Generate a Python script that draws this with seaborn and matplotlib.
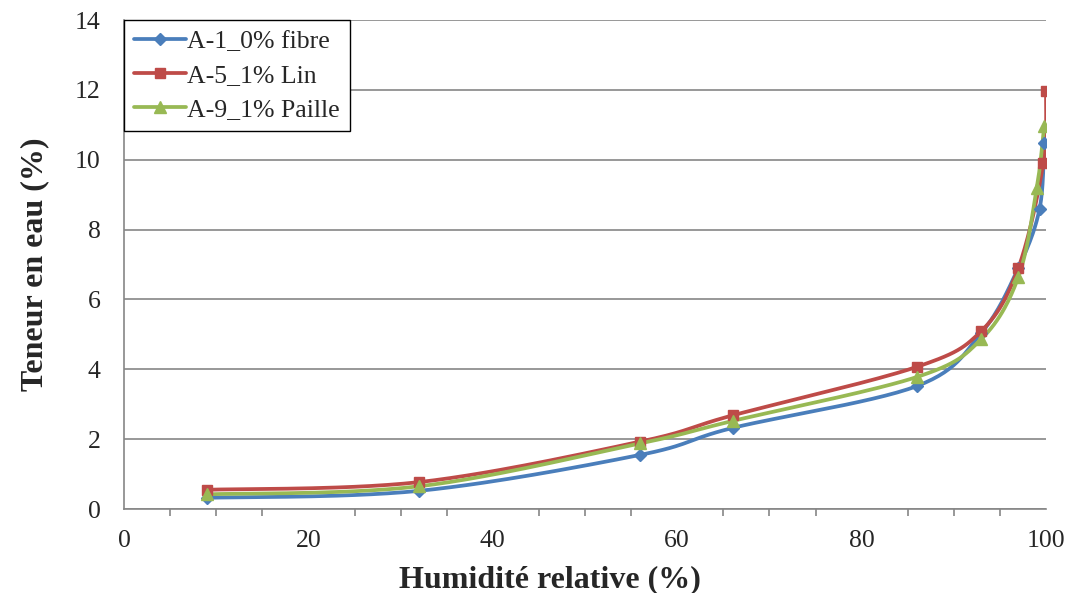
import matplotlib
matplotlib.use("Agg")
import matplotlib.pyplot as plt
from matplotlib.lines import Line2D
import numpy as np
import pandas as pd
import seaborn as sns

# Data
rh_a1 = [9, 32, 56, 66, 86, 93, 97, 99.3, 99.8]
wc_a1 = [0.32, 0.52, 1.55, 2.32, 3.52, 5.05, 6.9, 8.59, 10.48]
rh_a5 = [9, 32, 56, 66, 86, 93, 97, 99.7, 100]
wc_a5 = [0.55, 0.77, 1.93, 2.68, 4.07, 5.1, 6.9, 9.9, 11.97]
rh_a9 = [9, 32, 56, 66, 86, 93, 97, 99.0, 99.8]
wc_a9 = [0.42, 0.65, 1.88, 2.52, 3.78, 4.87, 6.64, 9.19, 10.96]

labels = ["A-1_0% fibre", "A-5_1% Lin", "A-9_1% Paille"]
colors = ["#4A7EBB", "#BE4B48", "#98B954"]
markers = ["D", "s", "^"]
msizes = [6.5, 7.5, 8.5]

sns.set_style("white")
plt.rcParams["font.family"] = ["Liberation Serif", "DejaVu Serif"]


def excel_smooth(x, y, sx=9.22, sy=34.93, n=30):
    # Bezier smoothing similar to Excel's "smoothed line", done in pixel space
    p = np.column_stack([np.asarray(x) * sx, np.asarray(y) * sy])
    pts = np.vstack([p[0], p, p[-1]])
    out = []
    t = np.linspace(0, 1, n)[:, None]
    for i in range(1, len(pts) - 2):
        p0, p1, p2, p3 = pts[i - 1], pts[i], pts[i + 1], pts[i + 2]
        c1 = p1 + (p2 - p0) / 6
        c2 = p2 - (p3 - p1) / 6
        seg = ((1 - t) ** 3) * p1 + 3 * ((1 - t) ** 2) * t * c1 + 3 * (1 - t) * t ** 2 * c2 + t ** 3 * p2
        out.append(seg if i == 1 else seg[1:])
    out = np.vstack(out)
    return out[:, 0] / sx, out[:, 1] / sy


fig = plt.figure(figsize=(10.71, 5.93), dpi=100)
ax = fig.add_axes([124 / 1071, 1 - 509 / 593, 922 / 1071, 489 / 593])

series = [(rh_a1, wc_a1), (rh_a5, wc_a5), (rh_a9, wc_a9)]
handles = []
for (xs, ys), lab, col, mk, ms in zip(series, labels, colors, markers, msizes):
    sx_, sy_ = excel_smooth(xs, ys)
    curve = pd.DataFrame({"rh": sx_, "wc": sy_})
    sns.lineplot(data=curve, x="rh", y="wc", sort=False, color=col, linewidth=2.7, ax=ax, zorder=3)
    ax.plot(xs, ys, linestyle="none", marker=mk, markersize=ms, color=col, zorder=4)
    handles.append(Line2D([0], [0], color=col, linewidth=2.7, marker=mk, markersize=ms))

ax.set_xlim(0, 100)
ax.set_ylim(0, 14)
ax.set_xticks(np.arange(0, 101, 20))
ax.set_xticks(np.arange(0, 101, 5), minor=True)
ax.set_yticks(np.arange(0, 15, 2))
ax.yaxis.grid(True, color="#868686", linewidth=1.2)
ax.xaxis.grid(False)
ax.set_axisbelow(True)

for side in ["top", "right"]:
    ax.spines[side].set_visible(False)
for side in ["left", "bottom"]:
    ax.spines[side].set_color("#868686")
    ax.spines[side].set_linewidth(1.2)

ax.tick_params(axis="both", which="major", direction="out", length=7, width=1.2,
               color="#868686", labelsize=18.5)
ax.tick_params(axis="x", which="minor", direction="out", length=5, width=1.2,
               color="#868686", bottom=True)
ax.tick_params(axis="x", which="major", pad=8)
ax.tick_params(axis="y", which="major", pad=10)

ax.set_xlabel("Humidité relative (%)", fontsize=23, fontweight="bold")
ax.xaxis.set_label_coords(0.462, -0.115)
ax.set_ylabel("Teneur en eau (%)", fontsize=23, fontweight="bold", labelpad=18)

leg = ax.legend(handles, labels, loc="upper left", bbox_to_anchor=(0, 1), fontsize=18.5,
                frameon=True, fancybox=False, edgecolor="black", framealpha=1,
                handlelength=2.0, handletextpad=0.05, borderpad=0.4, labelspacing=0.42,
                borderaxespad=0)
leg.get_frame().set_linewidth(1.0)

fig.savefig("out.png", dpi=100)
